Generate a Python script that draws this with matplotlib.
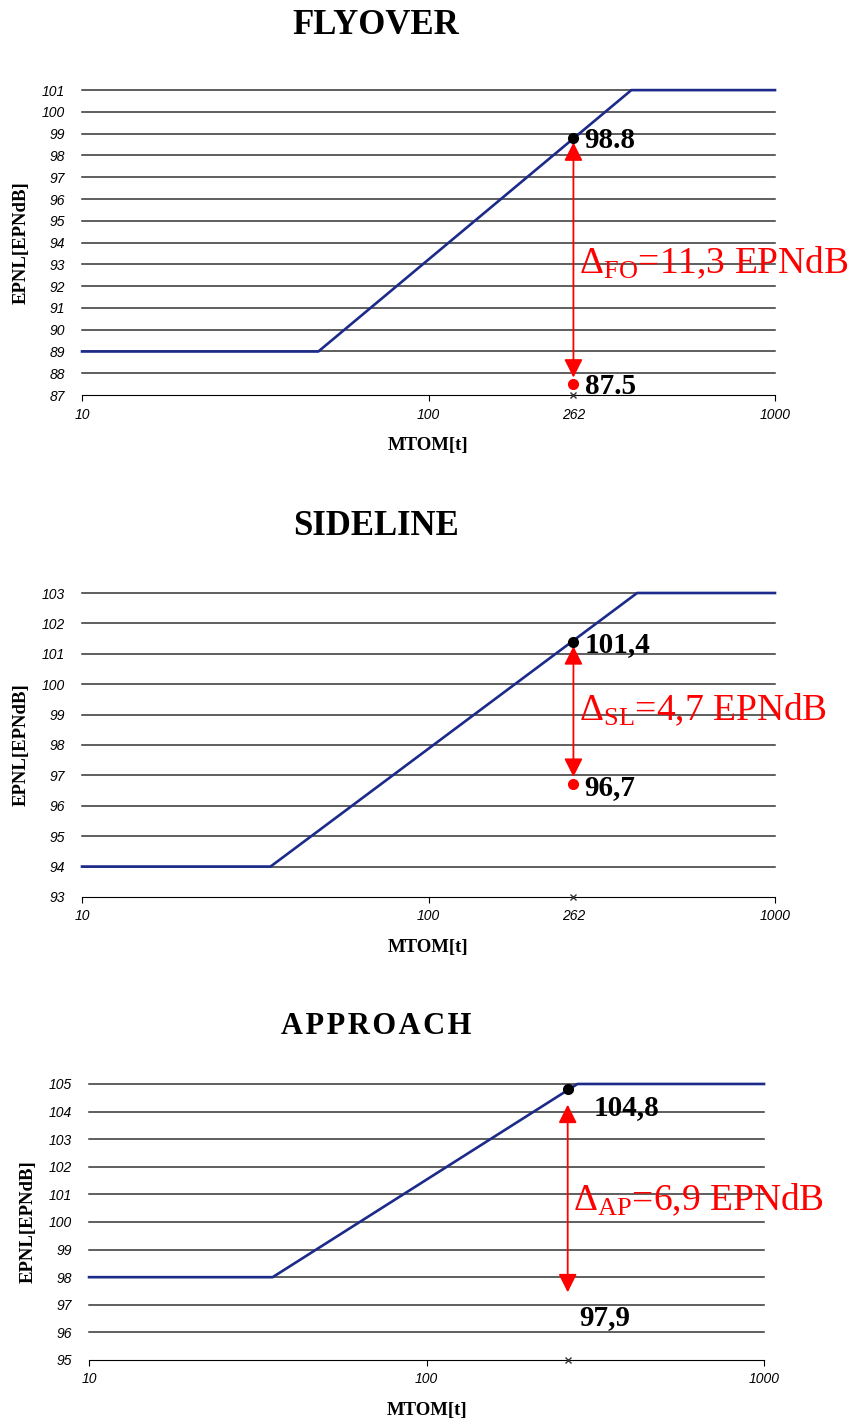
import matplotlib
matplotlib.use("Agg")
import matplotlib.pyplot as plt
import matplotlib.ticker as mticker

plt.rcParams.update({"mathtext.fontset": "custom",
                     "mathtext.rm": "Liberation Serif",
                     "mathtext.it": "Liberation Serif:italic",
                     "mathtext.bf": "Liberation Serif:bold"})

# --- datos ---
TITULOS = ["FLYOVER", "SIDELINE", "\u200a".join("APPROACH")]
MASA_FO = [10, 48.1, 385, 1000]
EPNL_FO = [89, 89, 101, 101]
MASA_SL = [10, 35, 400, 1000]
EPNL_SL = [94, 94, 103, 103]
MASA_AP = [10, 35, 280, 1000]
EPNL_AP = [98, 98, 105, 105]
MTOM_AVION = 262
LIMITE = [98.8, 101.4, 104.8]
AVION = [87.5, 96.7, 97.9]
ETIQ_LIMITE = ["98.8", "101,4", "104,8"]
ETIQ_AVION = ["87.5", "96,7", "97,9"]
DELTAS = [r"$\Delta_{\mathrm{FO}}$=11,3 EPNdB", r"$\Delta_{\mathrm{SL}}$=4,7 EPNdB",
          r"$\Delta_{\mathrm{AP}}$=6,9 EPNdB"]
YRANGOS = [(87, 101), (93, 103), (95, 105)]

AZUL = "#1c2a8a"
ROJO = "#ff0000"
SERIF = "Liberation Serif"
SANS = "Liberation Sans"

fig = plt.figure(figsize=(8.57, 14.19), dpi=100)
posiciones = [[0.0957, 0.7216, 0.8086, 0.2149],
              [0.0957, 0.3679, 0.8086, 0.2142],
              [0.1039, 0.0416, 0.7876, 0.1945]]
series = [(MASA_FO, EPNL_FO), (MASA_SL, EPNL_SL), (MASA_AP, EPNL_AP)]
# puntas de las flechas y desplazamientos de las etiquetas (puntos)
flechas = [(98.6, 87.8), (101.25, 96.95), (104.25, 97.45)]
off_lim = [(8, -2), (8, -2), (19, -13)]
off_av = [(8, -2), (8, -2), (8, -27)]
off_delta = [(4, 0), (4, 0), (4, 0)]
y_delta = [93.05, 99.15, 100.8]
mostrar_262 = [True, True, False]
titulo_y = [1 - 25 / 1419, 1 - 526 / 1419, 1 - 1026 / 1419]
titulo_fs = [25, 25, 22]

for i, ax in enumerate([fig.add_axes(p) for p in posiciones]):
    masas, niveles = series[i]
    y0, y1 = YRANGOS[i]
    ax.set_xscale("log")
    ax.set_xlim(10, 1000)
    ax.set_ylim(y0, y1)
    for y in range(y0 + 1, y1 + 1):
        ax.axhline(y, color="#333333", lw=1.1, zorder=1, clip_on=False)
    ax.plot(masas, niveles, color=AZUL, lw=1.9, zorder=3, clip_on=False)

    ax.plot([MTOM_AVION], [LIMITE[i]], "o", color="black", ms=7, zorder=5)
    if i < 2:
        ax.plot([MTOM_AVION], [AVION[i]], "o", color=ROJO, ms=7, zorder=5)
    ax.plot([MTOM_AVION], [y0], "x", color="#333333", ms=4, mew=1, zorder=5, clip_on=False)

    ax.annotate("", xy=(MTOM_AVION, flechas[i][0]), xytext=(MTOM_AVION, flechas[i][1]),
                arrowprops=dict(arrowstyle="<|-|>", color=ROJO, lw=1.3,
                                mutation_scale=28, shrinkA=0, shrinkB=0), zorder=4)
    ax.annotate(ETIQ_LIMITE[i], (MTOM_AVION, LIMITE[i]), xytext=off_lim[i],
                textcoords="offset points", fontsize=21, fontweight="bold",
                family=SERIF, va="center", ha="left", zorder=6)
    ax.annotate(ETIQ_AVION[i], (MTOM_AVION, AVION[i]), xytext=off_av[i],
                textcoords="offset points", fontsize=21, fontweight="bold",
                family=SERIF, va="center", ha="left", zorder=6)
    ax.annotate(DELTAS[i], (MTOM_AVION, y_delta[i]), xytext=off_delta[i],
                textcoords="offset points", fontsize=27, color=ROJO,
                family=SERIF, va="center", ha="left", zorder=6)

    for s in ["top", "right", "left"]:
        ax.spines[s].set_visible(False)
    ax.spines["bottom"].set_color("black")
    ax.set_yticks(range(y0, y1 + 1))
    ax.tick_params(axis="y", length=0, pad=12, labelsize=10)
    ax.xaxis.set_major_locator(mticker.FixedLocator([10, 100, 1000]))
    ax.xaxis.set_major_formatter(mticker.FixedFormatter(["10", "100", "1000"]))
    if mostrar_262[i]:
        ax.xaxis.set_minor_locator(mticker.FixedLocator([MTOM_AVION]))
        ax.xaxis.set_minor_formatter(mticker.FixedFormatter([str(MTOM_AVION)]))
    else:
        ax.xaxis.set_minor_locator(mticker.NullLocator())
    ax.tick_params(axis="x", which="major", length=4, pad=5, labelsize=10)
    ax.tick_params(axis="x", which="minor", length=0, pad=9, labelsize=10)
    for lab in ax.get_xticklabels(which="both") + ax.get_yticklabels():
        lab.set_fontstyle("italic")
        lab.set_family(SANS)

    ax.set_xlabel("MTOM[t]", fontsize=13.5, fontweight="bold", family=SERIF, labelpad=11)
    ax.set_ylabel("EPNL[EPNdB]", fontsize=13.5, fontweight="bold", family=SERIF, labelpad=9)
    fig.text(376 / 857, titulo_y[i], TITULOS[i], fontsize=titulo_fs[i], fontweight="bold",
             family=SERIF, ha="center", va="center")

fig.savefig("out.png", dpi=100)
